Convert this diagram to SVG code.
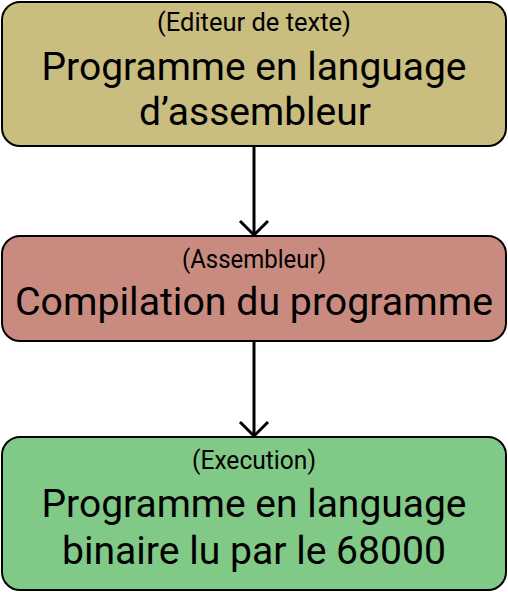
<svg xmlns="http://www.w3.org/2000/svg" width="508" height="592" viewBox="0 0 508 592">
<style>
.box{stroke:#000;stroke-width:2}
.sm{font-family:Roboto,"Liberation Sans",sans-serif;font-size:26px;fill:#000;text-anchor:middle}
.lg{font-family:Roboto,"Liberation Sans",sans-serif;font-size:38px;fill:#000;text-anchor:middle}
.conn{stroke:#000;stroke-width:3;fill:none}
</style>
<defs>
<marker id="arr" markerUnits="userSpaceOnUse" viewBox="-16 -16 32 32" refX="0" refY="0" markerWidth="32" markerHeight="32" orient="auto">
<path d="M-14,-14 L0,0 L-14,14" fill="none" stroke="#000" stroke-width="3"/>
</marker>
</defs>
<rect width="508" height="592" fill="#fff"/>
<g id="connectors">
<line class="conn" x1="254" y1="146" x2="254" y2="235" marker-end="url(#arr)"/>
<line class="conn" x1="254" y1="341" x2="254" y2="436" marker-end="url(#arr)"/>
</g>
<g id="node1">
<rect class="box" x="2" y="2" width="504" height="144" rx="18" fill="#c9bd80"/>
<text class="sm" x="254" y="31" textLength="194" lengthAdjust="spacingAndGlyphs">(Editeur de texte)</text>
<text class="lg" x="254" y="80" textLength="425" lengthAdjust="spacingAndGlyphs">Programme en language</text>
<text class="lg" x="255" y="125" textLength="232" lengthAdjust="spacingAndGlyphs">d’assembleur</text>
</g>
<g id="node2">
<rect class="box" x="2" y="236" width="504" height="105" rx="18" fill="#c98b7f"/>
<text class="sm" x="254" y="268" textLength="144" lengthAdjust="spacingAndGlyphs">(Assembleur)</text>
<text class="lg" x="254" y="315" textLength="478" lengthAdjust="spacingAndGlyphs">Compilation du programme</text>
</g>
<g id="node3">
<rect class="box" x="2" y="437" width="504" height="153" rx="18" fill="#80c987"/>
<text class="sm" x="254" y="469" textLength="124" lengthAdjust="spacingAndGlyphs">(Execution)</text>
<text class="lg" x="254" y="517" textLength="425" lengthAdjust="spacingAndGlyphs">Programme en language</text>
<text class="lg" x="254" y="564" textLength="384" lengthAdjust="spacingAndGlyphs">binaire lu par le 68000</text>
</g>
</svg>
